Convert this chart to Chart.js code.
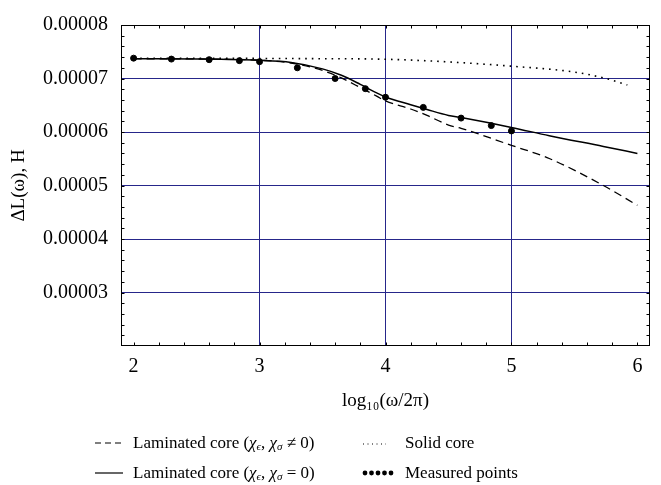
<!DOCTYPE html>
<html>
<head>
<meta charset="utf-8">
<script src="https://cdn.jsdelivr.net/npm/chart.js@4/dist/chart.umd.min.js"></script>
<style>
  html,body{margin:0;padding:0;background:#fff;overflow:hidden;}
  #wrap{position:relative;width:661px;height:485px;}
  canvas{position:absolute;left:0;top:0;}
  .leg{position:absolute;font-family:"Liberation Serif",serif;font-size:17px;color:#000;white-space:nowrap;line-height:20px;}
  .leg svg{position:absolute;top:5px;}
  .leg sub{font-size:11px;vertical-align:-2px;}
  .leg i{font-style:italic;}
</style>
</head>
<body>
<div id="wrap">
<canvas id="c" width="661" height="485"></canvas>
<div class="leg" style="left:95px;top:433px;">
  <svg width="30" height="10" style="left:0"><line x1="0" y1="5" x2="28" y2="5" stroke="#000" stroke-width="1.2" stroke-dasharray="6,4"/></svg>
  <span style="position:absolute;left:38px;">Laminated core (<i>χ</i><sub><i>ϵ</i></sub>, <i>χ</i><sub><i>σ</i></sub> ≠ 0)</span>
</div>
<div class="leg" style="left:95px;top:463px;">
  <svg width="30" height="10" style="left:0"><line x1="0" y1="5" x2="28" y2="5" stroke="#000" stroke-width="1.2"/></svg>
  <span style="position:absolute;left:38px;">Laminated core (<i>χ</i><sub><i>ϵ</i></sub>, <i>χ</i><sub><i>σ</i></sub> = 0)</span>
</div>
<div class="leg" style="left:362px;top:433px;">
  <svg width="30" height="10" style="left:0"><line x1="1" y1="6" x2="24" y2="6" stroke="#000" stroke-width="1" stroke-dasharray="1,3.5"/></svg>
  <span style="position:absolute;left:43px;">Solid core</span>
</div>
<div class="leg" style="left:362px;top:463px;">
  <svg width="34" height="10" style="left:0"><g fill="#000"><circle cx="3" cy="5" r="2.4"/><circle cx="9.5" cy="5" r="2.4"/><circle cx="16" cy="5" r="2.4"/><circle cx="22.5" cy="5" r="2.4"/><circle cx="29" cy="5" r="2.4"/></g></svg>
  <span style="position:absolute;left:43px;">Measured points</span>
</div>
</div>
<script>
// ---- data ----
const xTicks = [2, 3, 4, 5, 6];
const yTicks = [0.00002, 0.00003, 0.00004, 0.00005, 0.00006, 0.00007, 0.00008];

const measuredX = [2.0, 2.30, 2.60, 2.84, 3.0, 3.30, 3.60, 3.84, 4.0, 4.30, 4.60, 4.84, 5.0];
const measuredY = [0.0000738, 0.00007363, 0.00007352, 0.00007334, 0.00007315, 0.0000720, 0.0000700, 0.0000681, 0.0000665, 0.0000646, 0.0000626, 0.0000612, 0.0000602];

const lamX = [2.0, 2.5, 3.0, 3.25, 3.5, 3.65, 3.8, 3.93, 4.0, 4.2, 4.33, 4.5, 4.6, 5.0, 5.3, 5.73, 6.0];
const lamNonZeroY = [0.0000737, 0.00007365, 0.0000734, 0.0000729, 0.0000715, 0.0000701, 0.0000683, 0.0000667, 0.0000658, 0.0000643, 0.0000631, 0.0000613, 0.0000607, 0.0000575, 0.00005505, 0.0000500, 0.0000463];
const lamZeroY = [0.0000737, 0.00007365, 0.0000734, 0.0000730, 0.0000718, 0.0000706, 0.0000689, 0.0000673, 0.00006655, 0.0000651, 0.0000642, 0.0000631, 0.0000627, 0.00006086, 0.0000593, 0.0000573, 0.0000560];

const solidX = [2.0, 3.0, 3.5, 4.0, 4.5, 5.0, 5.5, 5.75, 5.92];
const solidY = [0.0000738, 0.00007375, 0.0000737, 0.0000736, 0.0000731, 0.0000723, 0.0000712, 0.0000700, 0.0000688];

const legendLabels = ['Laminated core (χϵ, χσ ≠ 0)', 'Laminated core (χϵ, χσ = 0)', 'Solid core', 'Measured points'];

// ---- helpers ----
const pts = (xs, ys) => xs.map((x, i) => ({x: x, y: ys[i]}));
const FONT = 'Liberation Serif';
const GRID = '#26268a';

const framePlugin = {
  id: 'frame',
  beforeDatasetsDraw(chart) {
    const {ctx, chartArea: {left, right, top, bottom}, scales: {x, y}} = chart;
    ctx.save();
    ctx.strokeStyle = '#000';
    ctx.lineWidth = 1;
    const L = Math.round(left) + 0.5, R = Math.round(right) - 0.5, T = Math.round(top) + 0.5, B = Math.round(bottom) - 0.5;
    ctx.strokeRect(L, T, R - L, B - T);
    ctx.beginPath();
    for (let i = 0; i <= 20; i++) {
      const px = Math.round(x.getPixelForValue(2 + i * 0.2)) + 0.5;
      ctx.moveTo(px, B); ctx.lineTo(px, B - 3);
      ctx.moveTo(px, T); ctx.lineTo(px, T + 3);
    }
    for (let i = 1; i < 30; i++) {
      const py = Math.round(y.getPixelForValue(0.00002 + i * 0.000002)) + 0.5;
      ctx.moveTo(L, py); ctx.lineTo(L + 3, py);
      ctx.moveTo(R, py); ctx.lineTo(R - 3, py);
    }
    ctx.stroke();
    ctx.restore();
  }
};

new Chart(document.getElementById('c'), {
  type: 'scatter',
  data: {
    datasets: [
      {label: legendLabels[0], data: pts(lamX, lamNonZeroY), showLine: true, borderColor: '#000', borderWidth: 1.3, borderDash: [8, 5], pointRadius: 0, cubicInterpolationMode: 'monotone', fill: false},
      {label: legendLabels[1], data: pts(lamX, lamZeroY), showLine: true, borderColor: '#000', borderWidth: 1.5, pointRadius: 0, cubicInterpolationMode: 'monotone', fill: false},
      {label: legendLabels[2], data: pts(solidX, solidY), showLine: true, borderColor: '#000', borderWidth: 1.6, borderDash: [1.6, 5], pointRadius: 0, cubicInterpolationMode: 'monotone', fill: false},
      {label: legendLabels[3], data: pts(measuredX, measuredY), showLine: false, backgroundColor: '#000', borderColor: '#000', pointRadius: 3, pointStyle: 'circle'}
    ]
  },
  options: {
    responsive: false,
    devicePixelRatio: 1,
    animation: false,
    layout: {padding: {left: 0, top: 19, right: 11, bottom: 73}},
    plugins: {legend: {display: false}, tooltip: {enabled: false}},
    scales: {
      x: {
        type: 'linear', min: 1.9, max: 6.1,
        afterBuildTicks: (s) => { s.ticks = xTicks.map(v => ({value: v})); },
        afterFit: (s) => { s.height = 66; },
        ticks: {color: '#000', padding: 9, font: {family: FONT, size: 20}, callback: (v) => String(v)},
        grid: {drawTicks: false, lineWidth: 1, color: (c) => (c.tick && c.tick.value > 2.5 && c.tick.value < 5.5) ? GRID : 'rgba(0,0,0,0)'},
        border: {display: false},
        title: {display: true, text: 'log₁₀(ω/2π)', color: '#000', font: {family: FONT, size: 19}, padding: {top: 0, bottom: 0}}
      },
      y: {
        type: 'linear', min: 0.00002, max: 0.00008,
        afterBuildTicks: (s) => { s.ticks = yTicks.map(v => ({value: v})); },
        afterFit: (s) => { s.width = 121; },
        ticks: {color: '#000', padding: 13, font: {family: FONT, size: 20}, callback: (v) => v < 0.000025 ? '' : v.toFixed(5)},
        grid: {drawTicks: false, lineWidth: 1, color: (c) => (c.tick && c.tick.value > 0.000025 && c.tick.value < 0.000075) ? GRID : 'rgba(0,0,0,0)'},
        border: {display: false},
        title: {display: true, text: 'ΔL(ω), H', color: '#000', font: {family: FONT, size: 19}, padding: {top: 8, bottom: 0}}
      }
    }
  },
  plugins: [framePlugin]
});
</script>
</body>
</html>
